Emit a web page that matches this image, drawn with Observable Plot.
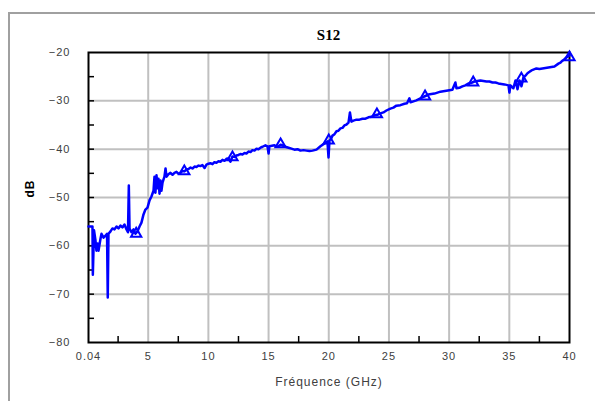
<!DOCTYPE html>
<html>
<head>
<meta charset="utf-8">
<script src="https://cdn.jsdelivr.net/npm/d3@7"></script>
<script src="https://cdn.jsdelivr.net/npm/@observablehq/plot@0.6"></script>
<style>
  html, body { margin: 0; padding: 0; background: #fff; }
  #wrap { position: relative; width: 595px; height: 401px; overflow: hidden; }
  #border { position: absolute; left: 8px; top: 12px; width: 700px; height: 500px;
            border-left: 2px solid #a0a0a0; border-top: 2px solid #a0a0a0; }
  #title { position: absolute; left: 88px; width: 481px; top: 27px; text-align: center;
           font: bold 15px "Liberation Serif", "DejaVu Serif", serif; color: #000; }
  svg { position: absolute; left: 0; top: 0; }
</style>
</head>
<body>
<div id="wrap">
  <div id="border"></div>
  <div id="title">S12</div>
</div>
<script>
// Measured S12 curve (GHz, dB)
const freq = [0.04,0.37,0.40,0.50,0.62,0.70,0.79,0.87,1.04,1.12,1.29,1.45,1.58,1.64,1.70,1.87,2.03,2.20,2.37,2.53,2.70,2.86,3.03,3.20,3.32,3.39,3.45,3.61,3.78,3.94,4.11,4.28,4.44,4.61,4.77,4.94,5.11,5.27,5.44,5.52,5.60,5.69,5.77,5.85,5.94,6.02,6.10,6.19,6.35,6.44,6.52,
  6.68,6.85,7.02,7.18,7.35,7.52,7.68,7.85,8.01,8.18,8.35,8.52,8.68,8.85,9.01,9.18,9.34,9.50,9.68,9.84,10.01,10.17,10.34,10.50,10.67,10.84,11.00,11.17,11.34,11.50,11.67,11.83,12.00,12.16,12.33,12.50,12.66,12.83,13.00,13.16,13.33,13.50,13.66,13.83,14.00,14.16,14.33,14.50,14.74,14.91,15.00,15.07,15.28,15.49,15.66,15.82,15.99,16.15,16.40,16.65,16.90,17.15,17.40,17.65,17.90,18.15,18.40,18.65,18.98,19.31,19.65,19.89,19.98,20.06,20.20,20.31,20.48,20.64,20.80,20.97,21.14,21.30,21.47,21.64,21.76,21.88,22.05,22.30,22.55,22.80,23.05,23.30,23.55,23.79,24.04,24.29,24.54,24.79,25.12,25.37,25.62,25.95,26.29,26.50,26.70,26.79,27.03,27.28,27.53,27.78,28.03,28.28,28.53,28.78,29.03,29.28,29.52,29.77,30.02,30.27,30.52,30.61,30.85,31.10,31.35,31.60,31.85,32.10,32.35,32.60,32.85,33.10,33.35,33.60,33.85,34.09,34.34,34.59,34.93,35.01,35.09,35.34,35.51,35.68,35.84,36.01,36.17,36.34,36.51,36.68,36.84,37.05,37.25,37.50,37.75,38.00,38.25,38.50,38.75,39.08,39.25,39.41,39.58,39.75,40.00];
const db = [-56.0,-56.0,-66.0,-56.8,-58.9,-61.0,-59.5,-61.0,-58.5,-57.5,-58.3,-57.9,-57.5,-70.7,-57.5,-57.0,-56.4,-56.6,-56.0,-56.4,-55.8,-56.2,-55.6,-56.6,-57.2,-47.5,-56.4,-57.2,-56.6,-57.5,-57.0,-56.0,-55.2,-53.5,-52.5,-52.1,-50.6,-49.8,-48.6,-45.7,-49.0,-45.4,-48.1,-46.1,-49.2,-46.5,-48.6,-46.9,-45.7,-44.0,-45.7,
  -45.2,-44.9,-45.3,-44.9,-44.7,-45.1,-44.9,-44.5,-44.6,-44.2,-44.1,-43.8,-44.0,-43.6,-43.7,-43.4,-43.5,-43.3,-43.9,-43.2,-43.0,-42.9,-43.1,-42.7,-42.8,-42.5,-42.6,-42.2,-42.4,-42.0,-41.9,-42.6,-41.5,-41.6,-41.3,-41.2,-41.0,-41.1,-40.8,-40.9,-40.5,-40.6,-40.2,-40.3,-39.9,-40.0,-39.7,-39.5,-39.2,-39.4,-40.9,-39.4,-39.3,-39.2,-39.5,-39.4,-39.1,-39.2,-39.5,-39.7,-39.9,-40.1,-40.0,-40.3,-40.2,-40.3,-40.4,-40.3,-40.1,-39.4,-38.8,-38.4,-41.7,-38.2,-37.8,-37.2,-36.9,-36.3,-36.2,-35.7,-35.6,-35.1,-34.9,-34.5,-32.4,-34.3,-34.1,-33.9,-33.9,-33.7,-33.7,-33.4,-33.3,-33.0,-32.9,-32.6,-32.4,-32.0,-31.6,-31.4,-31.0,-30.9,-30.6,-30.5,-29.5,-30.3,-30.1,-29.9,-29.6,-29.3,-29.0,-28.7,-28.6,-28.5,-28.3,-28.1,-28.0,-27.9,-27.8,-27.7,-26.2,-27.4,-27.3,-27.0,-26.8,-26.4,-26.3,-26.0,-25.9,-25.8,-25.9,-26.0,-26.0,-26.2,-26.2,-26.4,-26.5,-26.6,-26.8,-28.3,-26.8,-27.4,-25.8,-27.6,-25.8,-27.0,-25.2,-24.8,-24.3,-24.0,-23.7,-23.5,-23.3,-23.4,-23.3,-23.2,-23.1,-23.0,-22.9,-22.3,-22.1,-21.7,-21.4,-21.0,-20.6];

// Marker positions (every 4 GHz)
const markerFreq = [4, 8, 12, 16, 20, 24, 28, 32, 36, 40];
const markerDb = [-57.5, -44.6, -41.7, -39.0, -38.2, -32.8, -29.1, -26.2, -25.4, -21.0];

// Axis ticks
const xTicks = [0.04, 5, 10, 15, 20, 25, 30, 35, 40];
const xTickLabels = ["0.04", "5", "10", "15", "20", "25", "30", "35", "40"];
const xGrid = [5, 10, 15, 20, 25, 30, 35];
const xMinor = [2.5, 7.5, 12.5, 17.5, 22.5, 27.5, 32.5, 37.5];
const yTicks = [-80, -70, -60, -50, -40, -30, -20];
const yGrid = [-70, -60, -50, -40, -30];
const yMinor = [-75, -65, -55, -45, -35, -25, -70, -60, -50, -40, -30];

const curve = freq.map((f, i) => ({f, v: db[i]}));
const markers = markerFreq.map((f, i) => ({f, v: markerDb[i]}));

const chart = Plot.plot({
  width: 595,
  height: 401,
  marginLeft: 88,
  marginRight: 26,
  marginTop: 52,
  marginBottom: 59,
  style: {background: "transparent", fontFamily: "'Liberation Sans', Arial, sans-serif", fontSize: "11px", letterSpacing: "1px", color: "#404040"},
  x: {domain: [0.04, 40], label: null},
  y: {domain: [-80, -20], label: null},
  marks: [
    Plot.gridX(xGrid, {stroke: "#c0c0c0", strokeOpacity: 1, strokeWidth: 2}),
    Plot.gridY(yGrid, {stroke: "#c0c0c0", strokeOpacity: 1, strokeWidth: 2}),
    Plot.axisX(xMinor, {anchor: "bottom", tickSize: -6, tickFormat: () => "", stroke: "#000", strokeWidth: 1.5}),
    Plot.axisX(xTicks, {anchor: "bottom", tickSize: 0, tickPadding: 10, tickFormat: (d) => xTickLabels[xTicks.indexOf(d)], fill: "#404040"}),
    Plot.axisY(yMinor, {anchor: "left", tickSize: -6, tickFormat: () => "", stroke: "#000", strokeWidth: 1.5}),
    Plot.axisY(yTicks, {anchor: "left", tickSize: 0, tickPadding: 18, fill: "#404040"}),
    Plot.frame({stroke: "#000", strokeWidth: 2}),
    Plot.line(curve, {x: "f", y: "v", stroke: "#0000ff", strokeWidth: 2.5, strokeLinejoin: "round"}),
    Plot.dot(markers, {x: "f", y: "v", symbol: "triangle", r: 3.8, stroke: "#0000ff", strokeWidth: 2, fill: "none"}),
    Plot.text(["Fréquence (GHz)"], {frameAnchor: "bottom", dy: 43, fontSize: 12, fill: "#404040"}),
    Plot.text(["dB"], {frameAnchor: "left", dx: -58, rotate: -90, fontSize: 12, fontWeight: "bold", fill: "#000"})
  ]
});
document.getElementById("wrap").appendChild(chart);
</script>
</body>
</html>
